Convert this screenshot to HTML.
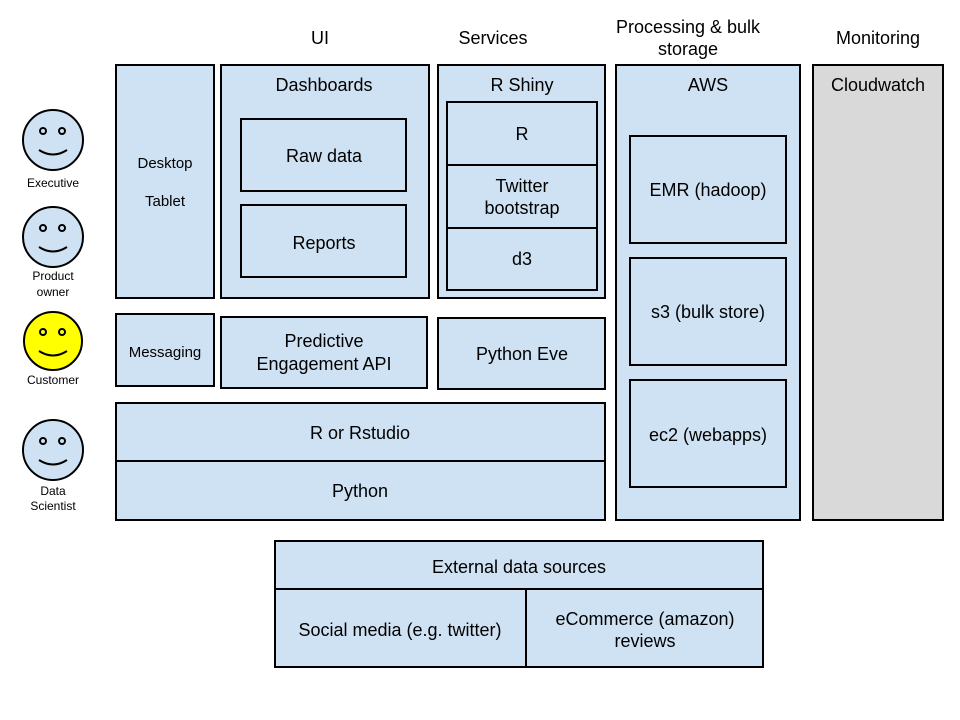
<!DOCTYPE html>
<html><head><meta charset="utf-8"><style>
html,body{margin:0;padding:0;background:#fff;width:960px;height:720px;overflow:hidden}
svg text{font-family:"Liberation Sans",sans-serif;fill:#000}
</style></head><body>
<svg width="960" height="720" viewBox="0 0 960 720" xmlns="http://www.w3.org/2000/svg">
<g font-size="18" text-anchor="middle">
<text x="320" y="44">UI</text>
<text x="493" y="44">Services</text>
<text x="688" y="33">Processing &amp; bulk</text>
<text x="688" y="55">storage</text>
<text x="878" y="44">Monitoring</text>
</g>
<g fill="#cfe2f3" stroke="#000" stroke-width="2">
<rect x="116" y="65" width="98" height="233"/>
<rect x="221" y="65" width="208" height="233"/>
<rect x="241" y="119" width="165" height="72"/>
<rect x="241" y="205" width="165" height="72"/>
<rect x="438" y="65" width="167" height="233"/>
<rect x="447" y="102" width="150" height="63"/>
<rect x="447" y="165" width="150" height="63"/>
<rect x="447" y="228" width="150" height="62"/>
<rect x="616" y="65" width="184" height="455"/>
<rect x="630" y="136" width="156" height="107"/>
<rect x="630" y="258" width="156" height="107"/>
<rect x="630" y="380" width="156" height="107"/>
<rect x="813" y="65" width="130" height="455" fill="#d9d9d9"/>
<rect x="116" y="314" width="98" height="72"/>
<rect x="221" y="317" width="206" height="71"/>
<rect x="438" y="318" width="167" height="71"/>
<rect x="116" y="403" width="489" height="58"/>
<rect x="116" y="461" width="489" height="59"/>
<rect x="275" y="541" width="488" height="48"/>
<rect x="275" y="589" width="251" height="78"/>
<rect x="526" y="589" width="237" height="78"/>
</g>
<g font-size="18" text-anchor="middle">
<text x="324" y="91">Dashboards</text>
<text x="324" y="162">Raw data</text>
<text x="324" y="249">Reports</text>
<text x="522" y="91">R Shiny</text>
<text x="522" y="140">R</text>
<text x="522" y="192">Twitter</text>
<text x="522" y="214">bootstrap</text>
<text x="522" y="265">d3</text>
<text x="708" y="91">AWS</text>
<text x="708" y="196">EMR (hadoop)</text>
<text x="708" y="318">s3 (bulk store)</text>
<text x="708" y="441">ec2 (webapps)</text>
<text x="878" y="91">Cloudwatch</text>
<text x="324" y="347">Predictive</text>
<text x="324" y="370">Engagement API</text>
<text x="522" y="360">Python Eve</text>
<text x="360" y="439">R or Rstudio</text>
<text x="360" y="497">Python</text>
<text x="519" y="573">External data sources</text>
<text x="400" y="636">Social media (e.g. twitter)</text>
<text x="645" y="625">eCommerce (amazon)</text>
<text x="645" y="647">reviews</text>
</g>
<g font-size="15" text-anchor="middle">
<text x="165" y="168">Desktop</text>
<text x="165" y="206">Tablet</text>
<text x="165" y="357">Messaging</text>
</g>
<g stroke="#000" stroke-width="2">
<g fill="#cfe2f3"><circle cx="53" cy="140" r="30"/><circle cx="53" cy="237" r="30"/><circle cx="53" cy="450" r="30"/></g>
<circle cx="53" cy="341" r="29" fill="#ffff00"/>
</g>
<g fill="none" stroke="#000" stroke-width="2">
<circle cx="43" cy="131" r="3"/><circle cx="62" cy="131" r="3"/><path d="M39 150 Q53 159 67 150"/>
<circle cx="43" cy="228" r="3"/><circle cx="62" cy="228" r="3"/><path d="M39 247 Q53 256 67 247"/>
<circle cx="43" cy="332" r="3"/><circle cx="62" cy="332" r="3"/><path d="M39 351 Q53 360 67 351"/>
<circle cx="43" cy="441" r="3"/><circle cx="62" cy="441" r="3"/><path d="M39 460 Q53 469 67 460"/>
</g>
<g font-size="12" text-anchor="middle">
<text x="53" y="187">Executive</text>
<text x="53" y="280">Product</text>
<text x="53" y="296">owner</text>
<text x="53" y="384">Customer</text>
<text x="53" y="495">Data</text>
<text x="53" y="510">Scientist</text>
</g>
</svg>
</body></html>
